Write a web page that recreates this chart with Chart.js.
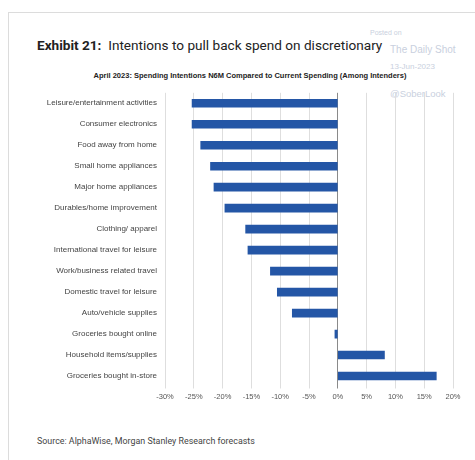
<!DOCTYPE html>
<html>
<head>
<meta charset="utf-8">
<script src="https://cdn.jsdelivr.net/npm/chart.js@4/dist/chart.umd.min.js"></script>
<style>
  body { margin: 0; background: #fff; }
  #page { position: relative; width: 475px; height: 460px; overflow: hidden; font-family: Roboto, "Liberation Sans", sans-serif; }
  #frame { position: absolute; left: 8px; top: 12px; width: 480px; height: 460px; border-left: 1px solid #dcdcdc; border-top: 1px solid #dcdcdc; }
  #title { position: absolute; left: 37px; top: 37px; font-size: 13.6px; color: #222; white-space: nowrap; }
  #title b { font-weight: bold; }
  #subtitle { position: absolute; left: 0; width: 500px; top: 71px; text-align: center; font-family: "Liberation Sans Narrow", "Liberation Sans", sans-serif; font-weight: bold; font-size: 7.5px; color: #222; white-space: nowrap; }
  .wm { position: absolute; color: #c9d0de; white-space: nowrap; font-family: "Liberation Sans", sans-serif; }
  #source { position: absolute; left: 37px; top: 436px; font-size: 8.9px; color: #444; white-space: nowrap; }
  #wrap { position: absolute; left: 0; top: 80px; width: 475px; height: 330px; }
</style>
</head>
<body>
<div id="page">
  <div id="frame"></div>
  <div id="title"><b>Exhibit 21:</b>&nbsp; Intentions to pull back spend on discretionary</div>
  <div id="subtitle">April 2023: Spending Intentions N6M Compared to Current Spending (Among Intenders)</div>
  <div class="wm" style="left:370px;top:29px;font-size:7px;">Posted on</div>
  <div class="wm" style="left:390px;top:44px;font-size:10px;">The Daily Shot</div>
  <div class="wm" style="left:390px;top:62px;font-size:8px;">13-Jun-2023</div>
  <div class="wm" style="left:390px;top:88px;font-size:9.5px;">@SoberLook</div>
  <div id="wrap"><canvas id="barChart"></canvas></div>
  <div id="source">Source: AlphaWise, Morgan Stanley Research forecasts</div>
</div>
<script>
// spending intentions, % vs current spending
const categories = [
  'Leisure/entertainment activities',
  'Consumer electronics',
  'Food away from home',
  'Small home appliances',
  'Major home appliances',
  'Durables/home improvement',
  'Clothing/ apparel',
  'International travel for leisure',
  'Work/business related travel',
  'Domestic travel for leisure',
  'Auto/vehicle supplies',
  'Groceries bought online',
  'Household items/supplies',
  'Groceries bought in-store'
];
const intentions = [-25.3, -25.3, -23.8, -22.1, -21.5, -19.6, -16.0, -15.6, -11.7, -10.5, -7.9, -0.5, 8.1, 17.1];
const xTicks = [-30, -25, -20, -15, -10, -5, 0, 5, 10, 15, 20];

const narrow = '"Liberation Sans Narrow", "Liberation Sans", sans-serif';

const ctx = document.getElementById('barChart').getContext('2d');
const barChart = new Chart(ctx, {
    type: 'bar',
    data: {
        labels: categories,
        datasets: [{
            data: intentions,
            backgroundColor: '#2456a6',
            borderWidth: 0,
            barThickness: 8
        }]
    },
    options: {
        indexAxis: 'y',
        responsive: true,
        maintainAspectRatio: false,
        animation: false,
        layout: { padding: { top: 11.5, right: 22, bottom: 0, left: 0 } },
        plugins: {
            legend: { display: false },
            tooltip: { enabled: false }
        },
        scales: {
            x: {
                min: xTicks[0],
                max: xTicks[xTicks.length - 1],
                afterBuildTicks: function(scale) {
                    scale.ticks = xTicks.map(v => ({ value: v }));
                },
                afterFit: function(scale) { scale.height = 23.5; },
                border: { display: false },
                grid: {
                    color: ctx => ctx.tick && ctx.tick.value === 0 ? '#8a8a8a' : '#dedede',
                    lineWidth: 1,
                    tickLength: 2
                },
                ticks: {
                    padding: 4,
                    color: '#555',
                    font: { family: narrow, size: 7.5 },
                    callback: v => v + '%'
                }
            },
            y: {
                afterFit: function(scale) { scale.width = 165; },
                border: { display: false },
                grid: { display: false, drawTicks: false },
                ticks: {
                    padding: 8,
                    color: '#444',
                    font: { family: narrow, size: 8 }
                }
            }
        }
    }
});
</script>
</body>
</html>
